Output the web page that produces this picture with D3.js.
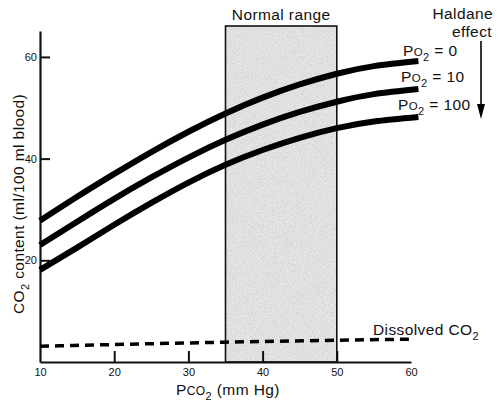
<!DOCTYPE html>
<html>
<head>
<meta charset="utf-8">
<script src="https://cdn.jsdelivr.net/npm/d3@7"></script>
<style>
  body { margin: 0; background: #fff; }
  svg { display: block; }
  .lbl { font-family: "Liberation Sans", Arial, Helvetica, sans-serif; font-size: 15.5px; fill: #111; letter-spacing: 0.4px; }
  .axis text { font-family: "Liberation Sans Narrow", "Arial Narrow", "Liberation Sans", sans-serif; font-size: 11px; fill: #111; }
  .axis path, .axis line { stroke: #111; }
</style>
</head>
<body>
<div id="canvas"></div>
<script>
// ---- DATA ----
var pco2 = [10, 15, 20, 25, 30, 35, 40, 45, 50, 55, 61];
var po2Zero = [27.8, 32.5, 37.0, 41.3, 45.3, 48.9, 52.0, 54.6, 56.7, 58.2, 59.2];
var po2Ten = [23.0, 27.6, 32.1, 36.3, 40.2, 43.7, 46.7, 49.2, 51.2, 52.7, 53.7];
var po2Hundred = [18.1, 22.5, 27.0, 31.3, 35.3, 38.8, 41.7, 44.1, 46.0, 47.3, 48.2];
var dissolvedX = [10, 35, 60];
var dissolvedY = [3.1, 3.9, 4.5];
var normalRange = [35, 50];
var xTicks = [10, 20, 30, 40, 50, 60];
var yTicks = [20, 40, 60];
var curveLabels = ['0', '10', '100'];

// ---- CONVENTIONS ----
var outerWidth = 498, outerHeight = 404;

var svg = d3.select('#canvas')
    .append('svg')
    .attr('width', outerWidth)
    .attr('height', outerHeight);

// grainy grey for the shaded box
var defs = svg.append('defs');
var grain = defs.append('filter')
    .attr('id', 'grain')
    .attr('x', 0).attr('y', 0).attr('width', 1).attr('height', 1);
grain.append('feTurbulence')
    .attr('type', 'fractalNoise')
    .attr('baseFrequency', 0.9)
    .attr('numOctaves', 2)
    .attr('seed', 3)
    .attr('result', 'n');
grain.append('feColorMatrix')
    .attr('in', 'n')
    .attr('type', 'matrix')
    .attr('values', '0 0 0 0 0.5  0 0 0 0 0.5  0 0 0 0 0.5  1.3 0 0 0 -0.52');

// ---- SCALES ----
var scaleX = d3.scaleLinear().domain([10, 60]).range([40, 411]);
var scaleY = d3.scaleLinear().domain([0, 60]).range([362, 57]);

// ---- NORMAL RANGE BOX ----
var boxTop = 26;
var boxX = scaleX(normalRange[0]),
    boxW = scaleX(normalRange[1]) - scaleX(normalRange[0]),
    boxH = scaleY(0) - boxTop;

svg.append('rect')
    .attr('x', boxX).attr('y', boxTop)
    .attr('width', boxW).attr('height', boxH)
    .style('fill', '#e6e6e6');
svg.append('rect')
    .attr('x', boxX).attr('y', boxTop)
    .attr('width', boxW).attr('height', boxH)
    .attr('filter', 'url(#grain)')
    .style('fill', '#fff');
svg.append('rect')
    .attr('x', boxX).attr('y', boxTop)
    .attr('width', boxW).attr('height', boxH)
    .style('fill', 'none')
    .style('stroke', '#111')
    .style('stroke-width', 1.6);

svg.append('text').attr('class', 'lbl')
    .attr('x', boxX + boxW / 2)
    .attr('y', 20)
    .attr('text-anchor', 'middle')
    .text('Normal range');

// ---- AXES ----
var axisX = d3.axisBottom(scaleX)
    .tickValues(xTicks)
    .tickSizeInner(-11)
    .tickSizeOuter(0)
    .tickPadding(6);
var axisY = d3.axisLeft(d3.scaleLinear().domain([0, 65.1]).range([362, 31]))
    .tickValues(yTicks)
    .tickSizeInner(-10)
    .tickSizeOuter(0)
    .tickPadding(3);

var gx = svg.append('g').attr('class', 'axis')
    .attr('transform', 'translate(0,' + scaleY(0) + ')')
    .call(axisX);
gx.select('.domain').style('stroke-width', 2.2);
gx.selectAll('.tick line').style('stroke-width', 2)
    .style('display', function(d){ return (d === 10 || d === 60) ? 'none' : null; });

var gy = svg.append('g').attr('class', 'axis')
    .attr('transform', 'translate(' + scaleX(10) + ',0)')
    .call(axisY);
gy.select('.domain').style('stroke-width', 2.2);
gy.selectAll('.tick line').style('stroke-width', 2);

// ---- CURVES ----
var lineGenerator = d3.line()
    .x(function(d){ return scaleX(d[0]); })
    .y(function(d){ return scaleY(d[1]); })
    .curve(d3.curveNatural);

var series = [po2Zero, po2Ten, po2Hundred];
svg.selectAll('.co2-line')
    .data(series)
    .enter()
    .append('path')
    .attr('class', 'co2-line')
    .attr('d', function(vals){ return lineGenerator(d3.zip(pco2, vals)); })
    .style('fill', 'none')
    .style('stroke', '#000')
    .style('stroke-width', 6);

svg.append('path')
    .attr('d', lineGenerator(d3.zip(dissolvedX, dissolvedY)))
    .style('fill', 'none')
    .style('stroke', '#000')
    .style('stroke-width', 3.5)
    .style('stroke-dasharray', '9,6');

// ---- LABELS ----
var labelPos = [[403, 56], [401, 82], [398, 110]];
curveLabels.forEach(function(v, i){
    var t = svg.append('text').attr('class', 'lbl')
        .attr('x', labelPos[i][0])
        .attr('y', labelPos[i][1]);
    t.append('tspan').text('P');
    t.append('tspan').style('font-size', '11.5px').text('O');
    t.append('tspan').style('font-size', '11px').attr('dy', 5).text('2');
    t.append('tspan').attr('dy', -5).text(' = ' + v);
});

svg.append('text').attr('class', 'lbl')
    .attr('x', 493).attr('y', 19)
    .attr('text-anchor', 'end')
    .text('Haldane');
svg.append('text').attr('class', 'lbl')
    .attr('x', 492).attr('y', 37)
    .attr('text-anchor', 'end')
    .text('effect');

// Haldane arrow
svg.append('line')
    .attr('x1', 481).attr('y1', 41)
    .attr('x2', 481).attr('y2', 108)
    .style('stroke', '#000')
    .style('stroke-width', 1.6);
svg.append('path')
    .attr('d', d3.line()([[477, 104], [485, 104], [481, 119]]))
    .style('fill', '#000');

var dis = svg.append('text').attr('class', 'lbl')
    .attr('x', 373).attr('y', 335);
dis.append('tspan').text('Dissolved CO');
dis.append('tspan').style('font-size', '11px').attr('dy', 5).text('2');

var xl = svg.append('text').attr('class', 'lbl')
    .attr('x', 176).attr('y', 395);
xl.append('tspan').text('P');
xl.append('tspan').style('font-size', '12px').text('CO');
xl.append('tspan').style('font-size', '11px').attr('dy', 5).text('2');
xl.append('tspan').attr('dy', -5).text(' (mm Hg)');

var yl = svg.append('text').attr('class', 'lbl')
    .attr('transform', 'translate(24,204) rotate(-90)')
    .attr('text-anchor', 'middle');
yl.append('tspan').text('CO');
yl.append('tspan').style('font-size', '11px').attr('dy', 5).text('2');
yl.append('tspan').attr('dy', -5).text(' content (ml/100 ml blood)');
</script>
</body>
</html>
